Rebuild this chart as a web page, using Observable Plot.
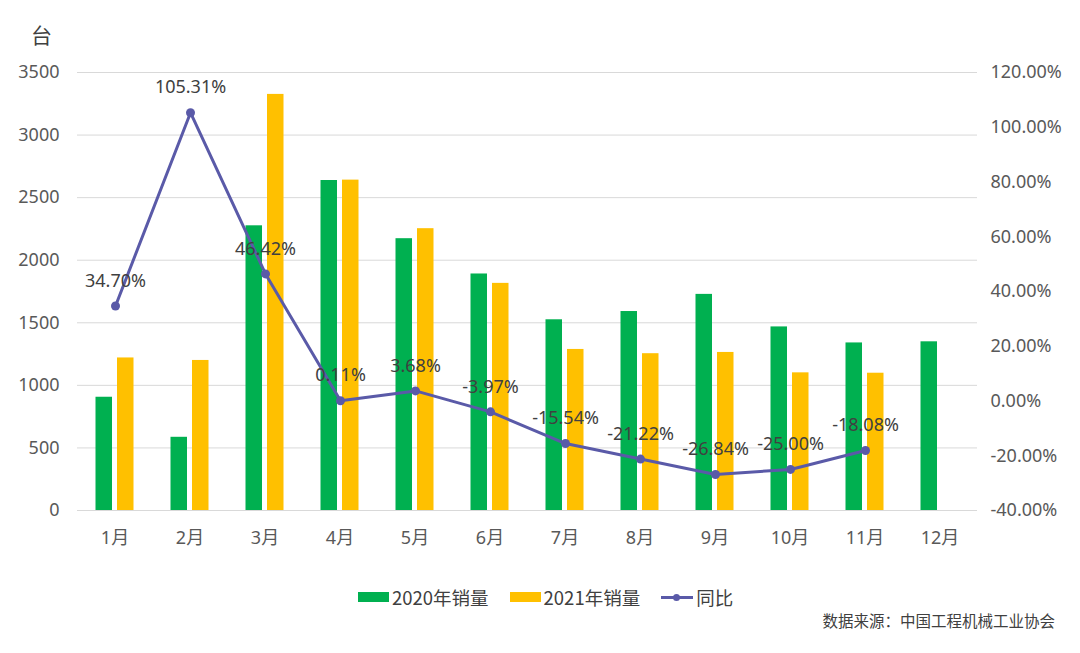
<!DOCTYPE html>
<html>
<head>
<meta charset="utf-8">
<script src="https://cdn.jsdelivr.net/npm/d3@7"></script>
<script src="https://cdn.jsdelivr.net/npm/@observablehq/plot@0.6"></script>
<style>
  html, body { margin: 0; padding: 0; background: #fff; }
  #wrap { position: relative; width: 1080px; height: 653px; overflow: hidden;
    font-family: "Noto Sans", "Noto Sans CJK SC", sans-serif; color: #595959; }
  #wrap svg { position: absolute; left: 0; top: 0; background: transparent; }
  .unit { position: absolute; left: 31px; top: 18px; font-size: 21px; line-height: 32px; color: #404040;
    font-family: "Noto Sans CJK SC", sans-serif; }
  .legend { position: absolute; left: 358px; top: 584px; display: flex; align-items: center;
    font-size: 18.5px; line-height: 26px; color: #404040; font-family: "Noto Sans CJK SC", sans-serif; }
  .legend .item { display: flex; align-items: center; margin-right: 21px; }
  .legend .sw { width: 31px; height: 10px; margin-right: 3px; }
  .legend .ln { width: 32px; height: 10px; margin-right: 3px; position: relative; }
  .legend .ln::before { content: ""; position: absolute; left: 0; right: 0; top: 4px; height: 2.5px; background: #5a5aa8; }
  .legend .ln::after { content: ""; position: absolute; left: 12px; top: 1.5px; width: 7px; height: 7px; border-radius: 50%; background: #5a5aa8; }
  .source { position: absolute; right: 25px; top: 609px; font-size: 15.5px; color: #404040;
    font-family: "Noto Sans CJK SC", sans-serif; }
</style>
</head>
<body>
<div id="wrap">
  <div class="unit">台</div>
  <div class="legend">
    <div class="item"><div class="sw" style="background:#00B050"></div>2020年销量</div>
    <div class="item"><div class="sw" style="background:#FFC000"></div>2021年销量</div>
    <div class="item"><div class="ln"></div>同比</div>
  </div>
  <div class="source">数据来源：中国工程机械工业协会</div>
</div>
<script>
const months = ["1月","2月","3月","4月","5月","6月","7月","8月","9月","10月","11月","12月"];
const sales2020 = [905, 585, 2275, 2637, 2172, 1890, 1524, 1590, 1727, 1467, 1339, 1348];
const sales2021 = [1219, 1199, 3325, 2640, 2252, 1815, 1287, 1253, 1263, 1100, 1097, null];
const yoy = [34.70, 105.31, 46.42, 0.11, 3.68, -3.97, -15.54, -21.22, -26.84, -25.00, -18.08, null];
const leftTicks = [0, 500, 1000, 1500, 2000, 2500, 3000, 3500];
const rightTicks = [-40, -20, 0, 20, 40, 60, 80, 100, 120];

const W = 1080, H = 560;
const margins = {marginTop: 72, marginBottom: 50, marginLeft: 77, marginRight: 103};
const font = '"Noto Sans", "Noto Sans CJK SC", sans-serif';

const bars2020 = months.map((m, i) => ({month: m, value: sales2020[i]}));
const bars2021 = months.map((m, i) => ({month: m, value: sales2021[i]})).filter(d => d.value != null);
const line = months.map((m, i) => ({month: m, pct: yoy[i]})).filter(d => d.pct != null);

const barW = 16.5, band = (W - margins.marginLeft - margins.marginRight) / months.length;
const inset = (band - barW) / 2;

const barsPlot = Plot.plot({
  width: W, height: H, ...margins,
  style: {fontFamily: font, fontSize: "18px", color: "#595959", background: "transparent"},
  x: {type: "band", domain: months, padding: 0, label: null},
  y: {domain: [0, 3500], label: null},
  marks: [
    Plot.ruleY(leftTicks, {stroke: "#d9d9d9", strokeWidth: 1}),
    Plot.barY(bars2020, {x: "month", y: "value", fill: "#00B050", dx: -10.75, insetLeft: inset, insetRight: inset}),
    Plot.barY(bars2021, {x: "month", y: "value", fill: "#FFC000", dx: 10.75, insetLeft: inset, insetRight: inset}),
    Plot.axisY({ticks: leftTicks, tickSize: 0, tickPadding: 18, tickFormat: d => String(d), fill: "#595959", fontSize: 18, label: null}),
    Plot.axisX({tickSize: 0, tickPadding: 21, fill: "#595959", fontSize: 18, label: null})
  ]
});

const linePlot = Plot.plot({
  width: W, height: H, ...margins,
  style: {fontFamily: font, fontSize: "18px", color: "#595959", background: "transparent"},
  x: {type: "point", domain: months, padding: 0.5, axis: null},
  y: {domain: [-40, 120], label: null},
  marks: [
    Plot.line(line, {x: "month", y: "pct", stroke: "#5a5aa8", strokeWidth: 3}),
    Plot.dot(line, {x: "month", y: "pct", fill: "#5a5aa8", r: 4.5}),
    Plot.text(line, {x: "month", y: "pct", text: d => d.pct.toFixed(2) + "%", dy: -25, fill: "#404040", fontSize: 18}),
    Plot.axisY({anchor: "right", ticks: rightTicks, tickSize: 0, tickPadding: 13, tickFormat: d => d.toFixed(2) + "%", fill: "#595959", fontSize: 18, label: null})
  ]
});

const wrap = document.getElementById("wrap");
wrap.appendChild(barsPlot);
wrap.appendChild(linePlot);
</script>
</body>
</html>
